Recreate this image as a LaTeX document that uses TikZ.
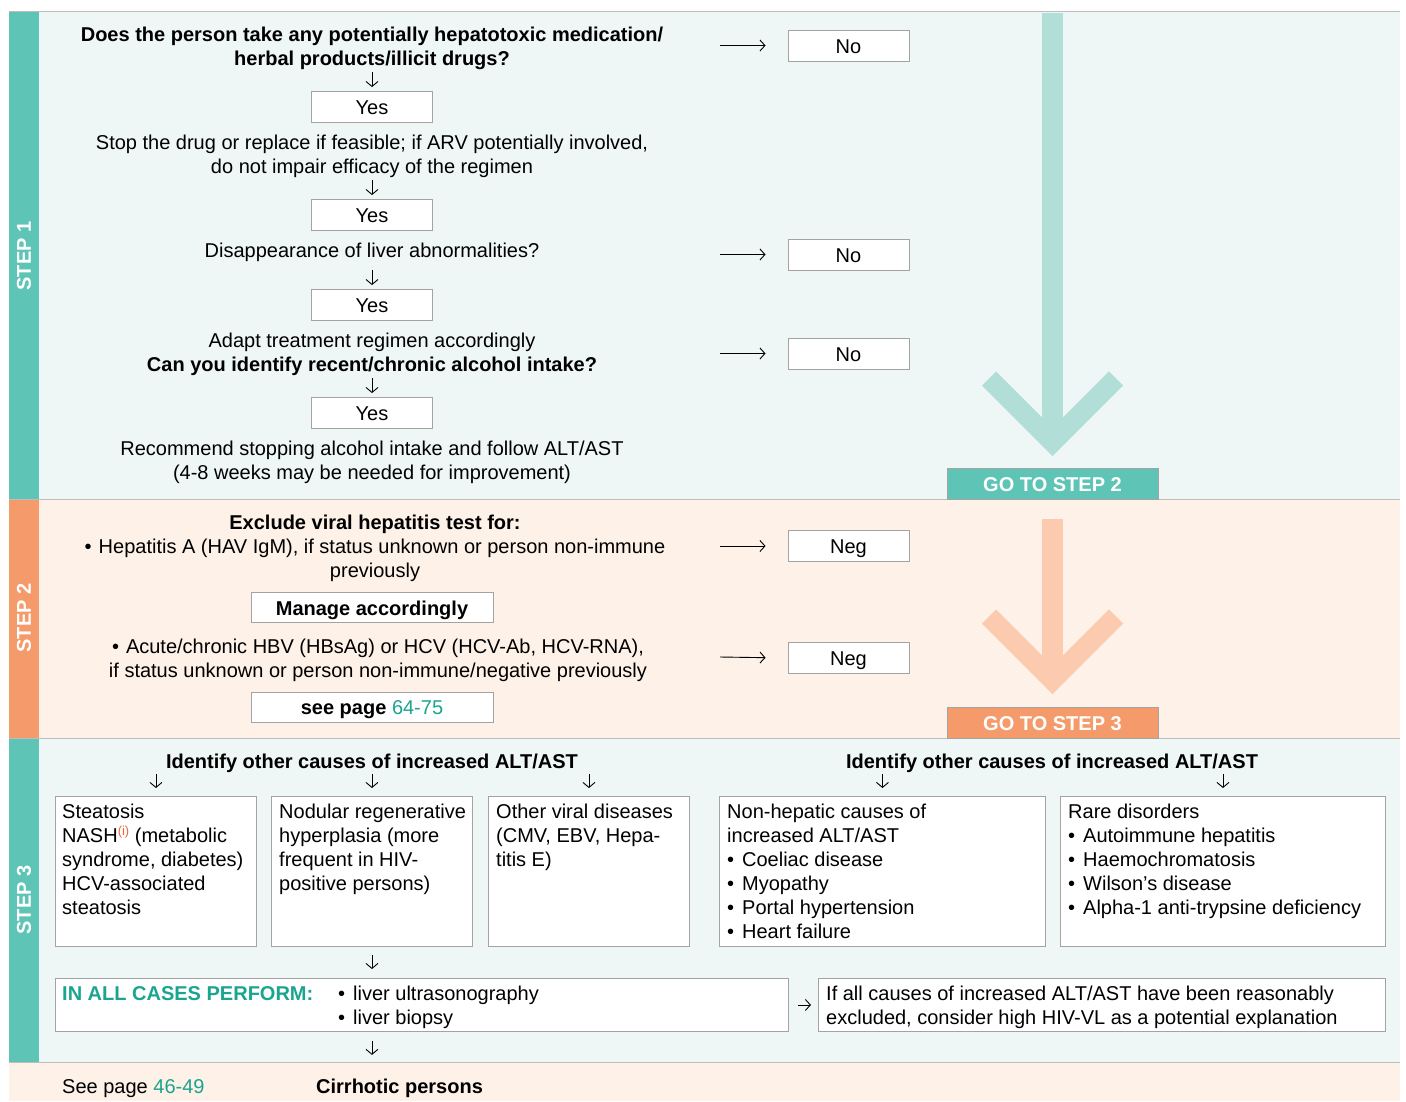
\documentclass[tikz,border=0pt]{standalone}
\usepackage{fontspec}
\setmainfont{Liberation Sans}
\usetikzlibrary{arrows.meta,calc}
\definecolor{tealbar}{HTML}{5EC4B5}
\definecolor{tealbg}{HTML}{EEF7F5}
\definecolor{orbar}{HTML}{F59B6B}
\definecolor{orbg}{HTML}{FDF1E8}
\definecolor{tealarrow}{HTML}{B1DED6}
\definecolor{orarrow}{HTML}{FCCAAE}
\definecolor{tealtext}{HTML}{1AA58F}
\definecolor{redsup}{HTML}{F0643C}
\definecolor{boxgray}{HTML}{A3A3A3}
\definecolor{linegray}{HTML}{BDBDBD}
\newcommand{\bul}{\makebox[15pt][l]{•}}
\newcommand{\cbul}{\makebox[14pt][l]{•}}
\newcommand{\bodyfont}{\fontsize{20}{24}\selectfont}
\newcommand{\supi}{\raisebox{7pt}{\fontsize{13}{13}\selectfont\color{redsup}(i)}}
\begin{document}
\begin{tikzpicture}[x=1pt,y=-1pt,
  every node/.style={font=\bodyfont, inner sep=0pt},
  txt/.style={align=center, anchor=base},
  ltxt/.style={align=left, anchor=base west},
  ansbox/.style={draw=boxgray, line width=0.9pt, fill=white, minimum width=121pt, minimum height=31pt, text height=17.5pt, text depth=2.5pt},
  widebox/.style={draw=boxgray, line width=0.9pt, fill=white, minimum width=242pt, minimum height=30pt, text height=17.5pt, text depth=2.5pt},
  causebox/.style={draw=boxgray, line width=0.9pt, fill=white, anchor=north west, minimum height=150pt},
  gobox/.style={draw=boxgray, line width=0.8pt, text=white, minimum width=211pt, minimum height=31pt, text height=17.5pt, text depth=2.5pt, font=\bodyfont\bfseries},
  steplabel/.style={rotate=90, text=white, font=\bodyfont\bfseries},
  darr/.style={-{Straight Barb[length=5pt,width=12pt]}, line width=0.9pt},
  rarr/.style={-{Straight Barb[length=5pt,width=11pt]}, line width=0.9pt},
  bigarrow/.style={line width=21pt},
  chevron/.style={line width=20pt, miter limit=10}]
\useasboundingbox (0,0) rectangle (1406,1101);
\fill[white] (0,0) rectangle (1406,1101);
% bands
\fill[tealbg] (9,11) rectangle (1400,499);
\fill[tealbar] (9,11) rectangle (39,499);
\fill[orbg] (9,499) rectangle (1400,738);
\fill[orbar] (9,499) rectangle (39,738);
\fill[tealbg] (9,738) rectangle (1400,1062);
\fill[tealbar] (9,738) rectangle (39,1062);
\fill[orbg] (9,1062) rectangle (1400,1101);
\draw[linegray, line width=1pt] (9,11) -- (1400,11);
\draw[linegray, line width=1pt] (9,499) -- (1400,499);
\draw[linegray, line width=1pt] (9,738) -- (1400,738);
\draw[linegray, line width=1pt] (9,1062) -- (1400,1062);
\node[steplabel] (lab1) at (24,256) {STEP 1};
\node[steplabel] (lab2) at (24,618) {STEP 2};
\node[steplabel] (lab3) at (24,900) {STEP 3};
% big arrows
\draw[tealarrow, bigarrow] (1052.5,13) -- (1052.5,440);
\draw[tealarrow, chevron] (989,378.5) -- (1052.5,442) -- (1116,378.5);
\draw[orarrow, bigarrow] (1052.5,519) -- (1052.5,675);
\draw[orarrow, chevron] (989,616.5) -- (1052.5,680) -- (1116,616.5);
\node[gobox, fill=tealbar] (go2) at (1052.5,483.5) {GO TO STEP 2};
\node[gobox, fill=orbar] (go3) at (1052.5,722.5) {GO TO STEP 3};
% step 1
\node[txt, font=\bodyfont\bfseries] (q1) at (372,65.5) {Does the person take any potentially hepatotoxic medication/\\herbal products/illicit drugs?};
\node[ansbox] (yes1) at (372,107) {Yes};
\node[txt] (t2) at (372,173.5) {Stop the drug or replace if feasible; if ARV potentially involved,\\do not impair efficacy of the regimen};
\node[ansbox] (yes2) at (372,215) {Yes};
\node[txt] (t3) at (372,257.5) {Disappearance of liver abnormalities?};
\node[ansbox] (yes3) at (372,305) {Yes};
\node[txt] (t4) at (372,371.5) {Adapt treatment regimen accordingly\\\textbf{Can you identify recent/chronic alcohol intake?}};
\node[ansbox] (yes4) at (372,413) {Yes};
\node[txt] (t5) at (372,479.5) {Recommend stopping alcohol intake and follow ALT/AST\\(4-8 weeks may be needed for improvement)};
\node[ansbox] (no1) at (848.5,45.5) {No};
\node[ansbox] (no2) at (848.5,254.5) {No};
\node[ansbox] (no3) at (848.5,353.5) {No};
\draw[darr] ([yshift=19pt]yes1.north) -- ([yshift=4pt]yes1.north);
\draw[darr] ([yshift=19pt]yes2.north) -- ([yshift=4pt]yes2.north);
\draw[darr] ([yshift=19pt]yes3.north) -- ([yshift=4pt]yes3.north);
\draw[darr] ([yshift=19pt]yes4.north) -- ([yshift=4pt]yes4.north);
\coordinate (r1) at (720,45.5);
\coordinate (r2) at (720,254.5);
\coordinate (r3) at (720,353.5);
\draw[rarr, shorten >=22pt] (r1) -- (no1.west);
\draw[rarr, shorten >=22pt] (r2) -- (no2.west);
\draw[rarr, shorten >=22pt] (r3) -- (no3.west);
% step 2
\node[txt] (s2a) at (375,577.5) {\textbf{Exclude viral hepatitis test for:}\\\cbul Hepatitis A (HAV IgM), if status unknown or person non-immune\\previously};
\node[widebox] (manage) at (372,607.5) {\textbf{Manage accordingly}};
\node[txt] (s2b) at (378,677.5) {\cbul Acute/chronic HBV (HBsAg) or HCV (HCV-Ab, HCV-RNA),\\if status unknown or person non-immune/negative previously};
\node[widebox] (seepage) at (372,707) {\textbf{see page} \textcolor{tealtext}{64-75}};
\node[ansbox] (neg1) at (848.5,546) {Neg};
\node[ansbox] (neg2) at (848.5,658) {Neg};
\coordinate (r4) at (720,546);
\coordinate (r5) at (720,657);
\draw[rarr, shorten >=22pt] (r4) -- (neg1.west);
\draw[rarr, shorten >=22pt] (r5) -- (neg2.west);
% step 3
\node[txt, font=\bodyfont\bfseries] (h1) at (372,768.5) {Identify other causes of increased ALT/AST};
\node[txt, font=\bodyfont\bfseries] (h2) at (1052,768.5) {Identify other causes of increased ALT/AST};
\node[causebox, minimum width=201pt] (b1) at (55,796) {};
\node[causebox, minimum width=201pt] (b2) at (271,796) {};
\node[causebox, minimum width=201pt] (b3) at (488,796) {};
\node[causebox, minimum width=326pt] (b4) at (719,796) {};
\node[causebox, minimum width=325pt] (b5) at (1060,796) {};
\node[ltxt] (b1t) at (62,914.5) {Steatosis\\NASH\supi\ (metabolic\\syndrome, diabetes)\\HCV-associated\\steatosis};
\node[ltxt] (b2t) at (279,890.5) {Nodular regenerative\\hyperplasia (more\\frequent in HIV-\\positive persons)};
\node[ltxt] (b3t) at (496,866.5) {Other viral diseases\\(CMV, EBV, Hepa-\\titis E)};
\node[ltxt] (b4t) at (727,938.5) {Non-hepatic causes of\\increased ALT/AST\\\bul Coeliac disease\\\bul Myopathy\\\bul Portal hypertension\\\bul Heart failure};
\node[ltxt] (b5t) at (1068,914.5) {Rare disorders\\\bul Autoimmune hepatitis\\\bul Haemochromatosis\\\bul Wilson’s disease\\\bul Alpha-1 anti-trypsine deficiency};
\draw[darr] ([yshift=22pt]b1.north) -- ([yshift=8pt]b1.north);
\draw[darr] ([yshift=22pt]b2.north) -- ([yshift=8pt]b2.north);
\draw[darr] ([yshift=22pt]b3.north) -- ([yshift=8pt]b3.north);
\draw[darr] ([yshift=22pt]b4.north) -- ([yshift=8pt]b4.north);
\draw[darr] ([yshift=22pt]b5.north) -- ([yshift=8pt]b5.north);
\node[draw=boxgray, line width=0.9pt, fill=white, anchor=north west, minimum width=733pt, minimum height=53pt] (all) at (55,978) {};
\coordinate (alltop) at (all.north -| b2.north);
\coordinate (allbot) at (all.south -| b2.north);
\draw[darr] ([yshift=23pt]alltop) -- ([yshift=9pt]alltop);
\node[ltxt, text=tealtext, font=\bodyfont\bfseries] (allt) at (62,1000.5) {IN ALL CASES PERFORM:};
\node[ltxt] (allb) at (338,1024.5) {\bul liver ultrasonography\\\bul liver biopsy};
\node[draw=boxgray, line width=0.9pt, fill=white, anchor=north west, minimum width=567pt, minimum height=53pt] (ifall) at (818,978) {};
\node[ltxt] (ifallt) at (826,1024.5) {If all causes of increased ALT/AST have been reasonably\\excluded, consider high HIV-VL as a potential explanation};
\draw[rarr, shorten <=9pt, shorten >=7pt] (all.east) -- (ifall.west);
\draw[darr] ([yshift=-9pt]allbot) -- ([yshift=-23pt]allbot);
% bottom
\node[ltxt] (see) at (62,1093.5) {See page \textcolor{tealtext}{46-49}};
\node[ltxt, font=\bodyfont\bfseries] (cirr) at (316,1093.5) {Cirrhotic persons};
\end{tikzpicture}
\end{document}
